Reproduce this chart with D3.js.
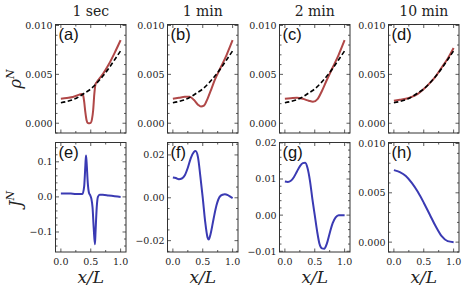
<!DOCTYPE html>
<html lang="en">
<head>
  <meta charset="UTF-8"/>
  <title>rho and J profiles</title>
  <style>
    *{margin:0;padding:0}
    body{background:#fff}
    svg{display:block}
    .tick-lbl{font-family:"DejaVu Serif",serif;font-size:9.5px;fill:#222}
    .title{font-family:"DejaVu Serif",serif;font-size:14px;fill:#222}
    .plab{font-family:"Liberation Sans",Arial,sans-serif;font-size:16.5px;fill:#111}
    .axlab{font-family:"DejaVu Serif",serif;font-style:italic;fill:#222}
  </style>
</head>
<body>
<div id="chart"></div>
<script src="https://d3js.org/d3.v7.min.js"></script>
<script>
// column titles and panel letters
const titles = ['1 sec', '1 min', '2 min', '10 min'];
const topLetters = ['(a)', '(b)', '(c)', '(d)'];
const botLetters = ['(e)', '(f)', '(g)', '(h)'];

// dashed reference density (same in all top panels)
const rhoEq = [[0,0.0021],[0.1,0.00222],[0.2,0.0024],[0.3,0.0027],[0.4,0.0031],[0.5,0.0035],
  [0.6,0.0041],[0.7,0.0048],[0.8,0.0056],[0.9,0.0065],[1.0,0.0074]];

// density rho^N per time
const rho1s = [[0,0.0025],[0.1,0.00258],[0.2,0.00268],[0.3,0.0029],[0.35,0.003],[0.37,0.0029],
  [0.39,0.0022],[0.41,0.0011],[0.43,0.0003],[0.45,0.00002],[0.48,0],[0.5,0.00003],[0.52,0.0004],
  [0.54,0.0013],[0.56,0.003],[0.58,0.004],[0.6,0.0042],[0.7,0.005],[0.8,0.006],[0.9,0.0072],[1.0,0.0085]];
const rho1m = [[0,0.0025],[0.1,0.0026],[0.2,0.0027],[0.28,0.0027],[0.35,0.0024],[0.42,0.0019],
  [0.47,0.0017],[0.52,0.0018],[0.58,0.0025],[0.65,0.0036],[0.7,0.0044],[0.8,0.0057],[0.9,0.007],[1.0,0.0085]];
const rho2m = [[0,0.0025],[0.1,0.00255],[0.2,0.0026],[0.3,0.0025],[0.4,0.0023],[0.47,0.0022],
  [0.55,0.0025],[0.62,0.0033],[0.7,0.0044],[0.8,0.0057],[0.9,0.007],[1.0,0.0085]];
const rho10m = [[0,0.0023],[0.1,0.0024],[0.2,0.0025],[0.3,0.0027],[0.4,0.003],[0.5,0.0035],
  [0.6,0.0041],[0.7,0.0048],[0.8,0.0057],[0.9,0.0066],[1.0,0.0077]];

// current J^N per time
const j1s = [[0,0.01],[0.1,0.01],[0.2,0.009],[0.3,0.008],[0.36,0.008],[0.39,0.03],[0.41,0.09],
  [0.42,0.118],[0.43,0.1],[0.45,0.04],[0.47,0.012],[0.49,0.005],[0.51,-0.005],[0.53,-0.03],
  [0.55,-0.09],[0.57,-0.135],[0.58,-0.1],[0.6,-0.03],[0.62,0],[0.65,0.006],[0.7,0.006],
  [0.8,0.004],[0.9,0.002],[1.0,0]];
const j1m = [[0,0.0095],[0.05,0.0092],[0.1,0.0087],[0.15,0.009],[0.2,0.0105],[0.25,0.014],
  [0.3,0.0185],[0.35,0.0213],[0.38,0.0218],[0.42,0.019],[0.46,0.01],[0.5,0],[0.54,-0.011],
  [0.58,-0.0185],[0.6,-0.0195],[0.63,-0.017],[0.68,-0.01],[0.73,-0.0035],[0.78,0.0003],
  [0.83,0.0014],[0.87,0.0016],[0.92,0.0012],[0.96,0.0005],[1.0,-0.0002]];
const j2m = [[0,0.0093],[0.05,0.0092],[0.1,0.0095],[0.15,0.0105],[0.2,0.012],[0.25,0.0135],
  [0.3,0.0144],[0.34,0.0145],[0.38,0.013],[0.42,0.0095],[0.46,0.0045],[0.5,0],[0.54,-0.0045],
  [0.58,-0.008],[0.62,-0.0092],[0.66,-0.0093],[0.7,-0.008],[0.75,-0.005],[0.8,-0.0022],
  [0.85,-0.0006],[0.9,0],[0.95,0],[1.0,0]];
const j10m = [[0,0.0073],[0.1,0.0071],[0.2,0.0067],[0.3,0.006],[0.4,0.0051],[0.5,0.004],
  [0.6,0.0028],[0.7,0.0016],[0.8,0.0006],[0.9,0.0001],[1.0,0]];

// tick values
const xTicks = [0, 0.5, 1.0];
const xTickLabels = ['0.0', '0.5', '1.0'];
const rhoTicks = [0, 0.005, 0.01];
const rhoTickLabels = ['0.000', '0.005', '0.010'];
const jTicks = [[-0.1, 0, 0.1], [-0.02, 0, 0.02], [-0.01, 0, 0.01, 0.02], [0, 0.005, 0.01]];
const jTickLabels = [['−0.1','0.0','0.1'], ['−0.02','0.00','0.02'], ['−0.01','0.00','0.01','0.02'], ['0.000','0.005','0.010']];

const rhoSeries = [rho1s, rho1m, rho2m, rho10m];
const jSeries = [j1s, j1m, j2m, j10m];

// layout
const W = 463, H = 290;
const colX = [55.5, 167.5, 279.5, 388.5], pw = 70.5;
const rowY = [24.5, 142.5], ph = [108.5, 109.5];
const xDom = [-0.09, 1.09];
const rhoDom = [-0.001, 0.0101];
const jDoms = [[-0.157, 0.155], [-0.0253, 0.0258], [-0.0102, 0.0201], [-0.001, 0.0101]];
const jMinor = [0.02, 0.005, 0.002, 0.001];

const svg = d3.select('#chart').append('svg').attr('width', W).attr('height', H);

function minorTicks(dom, step){
  const out = [];
  const s = Math.ceil(dom[0]/step - 1e-9), e = Math.floor(dom[1]/step + 1e-9);
  for(let i = s; i <= e; i++) out.push(i*step);
  return out;
}

function panel(col, row, ydom, yt, ytl, yminor, letter){
  const x0 = colX[col], y0 = rowY[row], h = ph[row];
  const x = d3.scaleLinear().domain(xDom).range([x0, x0 + pw]);
  const y = d3.scaleLinear().domain(ydom).range([y0 + h, y0]);
  const g = svg.append('g');
  const tk = g.append('g').attr('stroke', '#333').attr('stroke-width', 0.8);
  // ticks inside on all four sides
  minorTicks(xDom, 0.25).forEach(v => {
    const major = xTicks.some(t => Math.abs(t - v) < 1e-9);
    const L = major ? 3.5 : 2;
    tk.append('line').attr('x1', x(v)).attr('x2', x(v)).attr('y1', y0 + h).attr('y2', y0 + h - L);
    tk.append('line').attr('x1', x(v)).attr('x2', x(v)).attr('y1', y0).attr('y2', y0 + L);
  });
  minorTicks(ydom, yminor).forEach(v => {
    const major = yt.some(t => Math.abs(t - v) < 1e-9);
    const L = major ? 3.5 : 2;
    tk.append('line').attr('x1', x0).attr('x2', x0 + L).attr('y1', y(v)).attr('y2', y(v));
    tk.append('line').attr('x1', x0 + pw).attr('x2', x0 + pw - L).attr('y1', y(v)).attr('y2', y(v));
  });
  g.append('rect').attr('x', x0).attr('y', y0).attr('width', pw).attr('height', h)
    .attr('fill', 'none').attr('stroke', '#333').attr('stroke-width', 1);
  yt.forEach((v, i) => {
    g.append('text').attr('class', 'tick-lbl').attr('x', x0 - 3).attr('y', y(v) + 3.4)
      .attr('text-anchor', 'end').text(ytl[i]);
  });
  if(row === 1){
    xTicks.forEach((v, i) => {
      g.append('text').attr('class', 'tick-lbl').attr('x', x(v)).attr('y', y0 + h + 12.5)
        .attr('text-anchor', 'middle').text(xTickLabels[i]);
    });
    g.append('text').attr('class', 'axlab').attr('font-size', 17).attr('x', x0 + pw/2).attr('y', 283)
      .attr('text-anchor', 'middle').text('x/L');
  }
  g.append('text').attr('class', 'plab').attr('x', x0 + 3).attr('y', y0 + 15.5).text(letter);
  return {x, y, g};
}

const line = (x, y) => d3.line().x(d => x(d[0])).y(d => y(d[1])).curve(d3.curveMonotoneX);

for(let c = 0; c < 4; c++){
  const p = panel(c, 0, rhoDom, rhoTicks, rhoTickLabels, 0.001, topLetters[c]);
  p.g.append('path').datum(rhoSeries[c]).attr('d', line(p.x, p.y))
    .attr('fill', 'none').attr('stroke', '#b04747').attr('stroke-width', 2);
  p.g.append('path').datum(rhoEq).attr('d', line(p.x, p.y))
    .attr('fill', 'none').attr('stroke', '#000').attr('stroke-width', 1.6).attr('stroke-dasharray', '4.5,2.5');
  svg.append('text').attr('class', 'title').attr('x', colX[c] + pw/2).attr('y', 15.5)
    .attr('text-anchor', 'middle').text(titles[c]);

  const q = panel(c, 1, jDoms[c], jTicks[c], jTickLabels[c], jMinor[c], botLetters[c]);
  q.g.append('path').datum(jSeries[c]).attr('d', line(q.x, q.y))
    .attr('fill', 'none').attr('stroke', '#3a3ab3').attr('stroke-width', 2);
}

// y axis labels
const yl1 = svg.append('text').attr('class', 'axlab').attr('font-size', 16)
  .attr('transform', 'translate(21,79) rotate(-90)').attr('text-anchor', 'middle');
yl1.append('tspan').text('ρ');
yl1.append('tspan').attr('dy', -7).attr('font-size', 11).text('N');
const yl2 = svg.append('text').attr('class', 'axlab').attr('font-size', 16)
  .attr('transform', 'translate(21,199) rotate(-90)').attr('text-anchor', 'middle');
yl2.append('tspan').text('J');
yl2.append('tspan').attr('dy', -7).attr('font-size', 11).text('N');
</script>
</body>
</html>
